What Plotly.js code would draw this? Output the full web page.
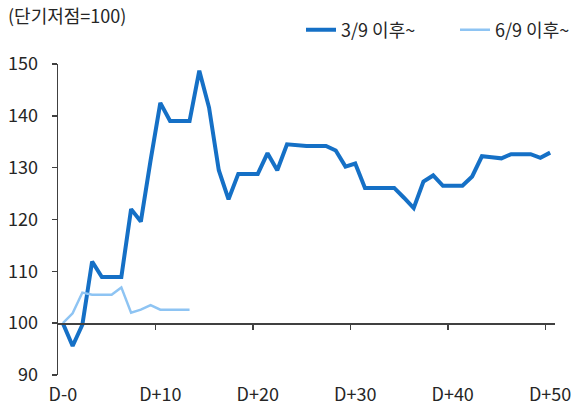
<!DOCTYPE html>
<html>
<head>
<meta charset="utf-8">
<script src="https://cdn.plot.ly/plotly-3.0.1.min.js"></script>
<style>html,body{margin:0;padding:0;background:#fff;}#chart{width:574px;height:407px;}</style>
</head>
<body>
<div id="chart"></div>
<script>
// Data
const days = Array.from({length: 51}, (_, i) => i);
const tickDays = [0, 10, 20, 30, 40, 50];
const tickLabels = ["D-0", "D+10", "D+20", "D+30", "D+40", "D+50"];
const series1Name = "3/9 이후~";
const series1 = [100, 95.6, 99.7, 111.9, 108.9, 108.9, 108.9, 122, 119.6, 131.4,
  142.5, 139, 139, 139, 148.7, 141.6, 129.5, 123.9, 128.8, 128.8,
  128.8, 132.8, 129.5, 134.5, 134.3, 134.2, 134.2, 134.2, 133.3, 130.2,
  130.8, 126.1, 126.1, 126.1, 126.1, 124.2, 122.2, 127.3, 128.5, 126.5,
  126.5, 126.5, 128.3, 132.2, 132.0, 131.8, 132.6, 132.6, 132.6, 131.9, 132.9];
const series2Name = "6/9 이후~";
const series2 = [100, 101.9, 105.9, 105.5, 105.5, 105.5, 106.9, 102.0, 102.6, 103.5,
  102.6, 102.6, 102.6, 102.6];
const yTicks = [90, 100, 110, 120, 130, 140, 150];
const boundaryTicks = [9.5, 19.5, 29.5, 39.5, 49.5];

const font = "'Noto Sans CJK KR', 'Noto Sans', sans-serif";
const txt = "#262626";

const traces = [
  {x: days, y: series1, name: series1Name, type: "scatter", mode: "lines",
   line: {color: "#1570C6", width: 4}, xaxis: "x", yaxis: "y"},
  {x: days.slice(0, series2.length), y: series2, name: series2Name, type: "scatter", mode: "lines",
   line: {color: "#8EC4F3", width: 2.5}, xaxis: "x2", yaxis: "y"}
];

const layout = {
  width: 574, height: 407,
  margin: {l: 58, r: 19, t: 64, b: 32},
  paper_bgcolor: "#fff", plot_bgcolor: "#fff",
  font: {family: font, size: 18, color: txt},
  showlegend: true,
  legend: {orientation: "h", x: 301/574, xref: "container", xanchor: "left",
    y: 1 - 30/407, yref: "container", yanchor: "middle",
    font: {size: 18, color: txt}, bgcolor: "rgba(0,0,0,0)", traceorder: "normal",
    entrywidth: 109, entrywidthmode: "pixels"},
  title: {text: "(단기저점=100)", x: 8/574, xanchor: "left", xref: "container",
    y: 1 - 17/407, yref: "container", yanchor: "middle", font: {size: 18, color: txt}},
  xaxis: {range: [-0.5, 50.5], tickvals: tickDays, ticktext: tickLabels, ticks: "",
    ticklabelstandoff: 7,
    showline: false, showgrid: false, zeroline: false, tickfont: {size: 18, color: txt}},
  xaxis2: {range: [-0.5, 50.5], overlaying: "x", anchor: "free", position: 1/6,
    tickvals: boundaryTicks, ticks: "outside", ticklen: 5, tickcolor: "#404040", tickwidth: 1.5,
    showticklabels: false, showline: true, linecolor: "#404040", linewidth: 1.5,
    showgrid: false, zeroline: false},
  yaxis: {range: [90, 150], tickvals: yTicks, ticks: "outside", ticklen: 5, tickcolor: "#404040", tickwidth: 1.5,
    ticklabelstandoff: 10,
    showline: true, linecolor: "#404040", linewidth: 1.5, showgrid: false, zeroline: false,
    tickfont: {size: 18, color: txt}}
};

Plotly.newPlot("chart", traces, layout, {displayModeBar: false, staticPlot: true});
</script>
</body>
</html>
